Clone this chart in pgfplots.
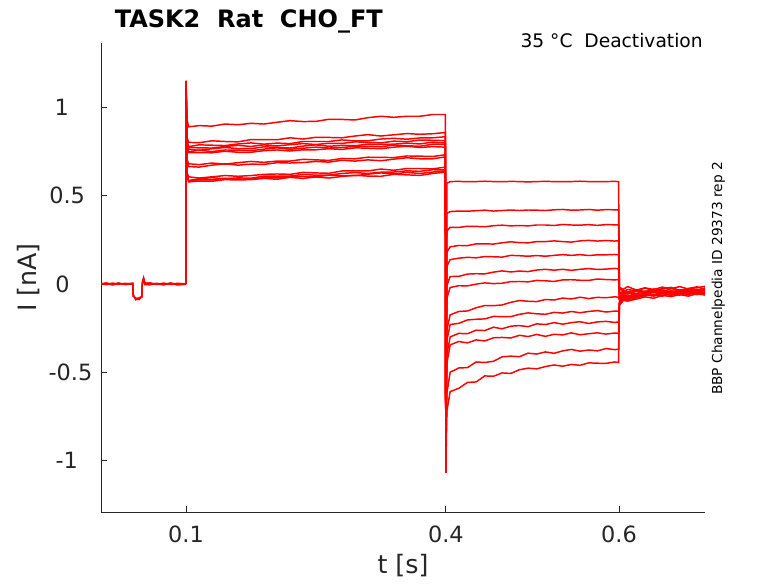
\documentclass[border=0pt]{standalone}
\usepackage{fontspec}
\setmainfont{DejaVu Sans}
\usepackage{pgfplots}
\pgfplotsset{compat=1.18}
\usepackage{pgfplotstable}
\definecolor{axgray}{RGB}{38,38,38}

\pgfplotstableread{
x a b c d e f g h i j k l m
0.1 0 0 0 0 0 0 0 0 0 0 0 0 0
0.1 1.15 1.15 1.12 1.10 1.08 1.15 1.10 1.12 1.06 1.15 1.08 1.10 1.12
0.1012 0.930 0.830 0.810 0.800 0.790 0.780 0.770 0.705 0.695 0.630 0.620 0.615 0.610
0.103 0.890 0.802 0.778 0.773 0.763 0.748 0.744 0.681 0.665 0.607 0.586 0.582 0.578
0.115 0.897 0.800 0.788 0.771 0.757 0.758 0.744 0.676 0.662 0.600 0.596 0.590 0.583
0.130 0.894 0.811 0.786 0.770 0.766 0.750 0.743 0.685 0.673 0.607 0.602 0.589 0.582
0.145 0.906 0.807 0.784 0.779 0.773 0.759 0.752 0.679 0.681 0.614 0.595 0.599 0.591
0.160 0.902 0.805 0.793 0.785 0.767 0.758 0.746 0.687 0.673 0.610 0.601 0.595 0.589
0.175 0.910 0.818 0.799 0.779 0.766 0.755 0.746 0.694 0.679 0.614 0.599 0.593 0.591
0.190 0.906 0.818 0.792 0.788 0.777 0.764 0.755 0.689 0.677 0.621 0.611 0.603 0.598
0.205 0.916 0.817 0.798 0.782 0.774 0.771 0.759 0.696 0.687 0.623 0.611 0.601 0.593
0.220 0.925 0.828 0.795 0.789 0.770 0.763 0.753 0.696 0.685 0.621 0.611 0.609 0.604
0.235 0.920 0.821 0.807 0.795 0.781 0.769 0.760 0.706 0.688 0.632 0.621 0.609 0.598
0.250 0.921 0.831 0.807 0.790 0.788 0.775 0.760 0.703 0.694 0.629 0.616 0.607 0.606
0.265 0.933 0.830 0.807 0.797 0.780 0.770 0.766 0.700 0.690 0.627 0.616 0.616 0.600
0.280 0.932 0.828 0.816 0.796 0.785 0.773 0.762 0.711 0.701 0.640 0.626 0.614 0.609
0.295 0.929 0.838 0.811 0.805 0.783 0.779 0.771 0.709 0.696 0.640 0.631 0.613 0.616
0.310 0.942 0.846 0.811 0.802 0.792 0.780 0.769 0.718 0.703 0.640 0.626 0.622 0.611
0.325 0.950 0.838 0.821 0.799 0.790 0.777 0.766 0.717 0.698 0.651 0.633 0.629 0.610
0.340 0.944 0.845 0.825 0.809 0.792 0.787 0.775 0.716 0.707 0.644 0.634 0.623 0.621
0.355 0.950 0.852 0.820 0.806 0.798 0.783 0.780 0.725 0.715 0.654 0.641 0.632 0.618
0.370 0.950 0.848 0.827 0.815 0.793 0.780 0.773 0.724 0.709 0.654 0.638 0.626 0.615
0.385 0.960 0.851 0.828 0.814 0.804 0.792 0.778 0.722 0.709 0.652 0.647 0.634 0.626
0.3995 0.960 0.858 0.834 0.812 0.798 0.791 0.775 0.732 0.720 0.662 0.646 0.640 0.633
0.4 -1.07 -1.02 -1.05 -0.98 -1.07 -1.00 -1.04 -1.07 -0.99 -1.03 -1.06 -1.01 -1.07
0.4012 0.570 0.400 0.300 0.180 0.100 -0.010 -0.080 -0.260 -0.320 -0.400 -0.450 -0.620 -0.720
0.405 0.580 0.410 0.321 0.210 0.138 0.042 -0.020 -0.175 -0.230 -0.300 -0.345 -0.500 -0.610
0.415 0.581 0.413 0.320 0.218 0.146 0.043 -0.010 -0.156 -0.223 -0.280 -0.326 -0.476 -0.591
0.425 0.579 0.412 0.327 0.217 0.151 0.056 -0.011 -0.153 -0.204 -0.282 -0.334 -0.474 -0.558
0.435 0.580 0.415 0.326 0.227 0.148 0.058 -0.001 -0.135 -0.200 -0.262 -0.317 -0.442 -0.555
0.445 0.582 0.418 0.324 0.227 0.155 0.057 0.006 -0.122 -0.198 -0.264 -0.323 -0.445 -0.521
0.455 0.580 0.413 0.330 0.226 0.154 0.067 0.002 -0.123 -0.184 -0.245 -0.305 -0.438 -0.523
0.465 0.579 0.416 0.333 0.233 0.152 0.074 0.004 -0.119 -0.185 -0.254 -0.303 -0.413 -0.504
0.475 0.581 0.419 0.329 0.239 0.162 0.068 0.013 -0.104 -0.185 -0.239 -0.306 -0.409 -0.507
0.485 0.580 0.416 0.331 0.234 0.160 0.073 0.014 -0.094 -0.172 -0.236 -0.291 -0.412 -0.486
0.495 0.578 0.419 0.329 0.233 0.157 0.070 0.012 -0.098 -0.164 -0.242 -0.298 -0.392 -0.477
0.505 0.580 0.418 0.334 0.240 0.161 0.079 0.020 -0.100 -0.169 -0.226 -0.286 -0.397 -0.481
0.515 0.581 0.416 0.334 0.240 0.157 0.083 0.018 -0.088 -0.172 -0.230 -0.297 -0.385 -0.468
0.525 0.580 0.420 0.331 0.244 0.162 0.078 0.014 -0.091 -0.161 -0.219 -0.285 -0.393 -0.459
0.535 0.579 0.422 0.337 0.240 0.166 0.083 0.023 -0.080 -0.165 -0.228 -0.289 -0.379 -0.466
0.545 0.580 0.418 0.334 0.237 0.162 0.077 0.024 -0.085 -0.156 -0.219 -0.277 -0.371 -0.456
0.555 0.582 0.419 0.333 0.244 0.166 0.083 0.021 -0.075 -0.163 -0.214 -0.288 -0.381 -0.461
0.565 0.580 0.422 0.336 0.247 0.161 0.087 0.020 -0.083 -0.156 -0.224 -0.282 -0.374 -0.447
0.575 0.579 0.418 0.332 0.243 0.165 0.082 0.028 -0.076 -0.151 -0.215 -0.277 -0.379 -0.449
0.585 0.580 0.421 0.336 0.246 0.165 0.084 0.025 -0.078 -0.159 -0.212 -0.284 -0.366 -0.450
0.595 0.581 0.420 0.335 0.243 0.167 0.088 0.023 -0.073 -0.154 -0.218 -0.278 -0.372 -0.442
0.5995 0.580 0.420 0.335 0.245 0.165 0.085 0.025 -0.075 -0.155 -0.215 -0.280 -0.370 -0.445
0.6005 -0.020 -0.030 -0.050 -0.060 -0.070 -0.080 -0.085 -0.090 -0.100 -0.105 -0.110 -0.115 -0.120
0.605 -0.030 -0.038 -0.043 -0.048 -0.055 -0.058 -0.062 -0.068 -0.072 -0.077 -0.082 -0.088 -0.093
0.610 -0.015 -0.045 -0.0315 -0.0555 -0.048 -0.0525 -0.063 -0.0675 -0.0735 -0.0795 -0.0825 -0.090 -0.0975
0.620 -0.0345 -0.0315 -0.039 -0.0375 -0.057 -0.0435 -0.0735 -0.0555 -0.0645 -0.0705 -0.069 -0.078 -0.0855
0.630 -0.0225 -0.0435 -0.0225 -0.051 -0.0405 -0.054 -0.0555 -0.0645 -0.0525 -0.0615 -0.057 -0.0675 -0.0735
0.640 -0.039 -0.0285 -0.0315 -0.042 -0.0495 -0.0345 -0.0645 -0.045 -0.0615 -0.069 -0.0645 -0.0585 -0.081
0.650 -0.027 -0.0405 -0.018 -0.0555 -0.033 -0.045 -0.048 -0.0525 -0.0465 -0.0555 -0.048 -0.069 -0.0645
0.660 -0.0195 -0.048 -0.027 -0.039 -0.045 -0.0255 -0.060 -0.039 -0.0555 -0.0645 -0.054 -0.0555 -0.072
0.670 -0.036 -0.033 -0.015 -0.048 -0.0375 -0.0375 -0.0525 -0.048 -0.039 -0.051 -0.0405 -0.063 -0.060
0.680 -0.0255 -0.042 -0.0285 -0.0345 -0.0525 -0.0285 -0.0435 -0.033 -0.051 -0.060 -0.0495 -0.051 -0.069
0.690 -0.0165 -0.030 -0.021 -0.051 -0.039 -0.039 -0.0585 -0.0435 -0.0435 -0.048 -0.0345 -0.060 -0.0555
0.6993 -0.030 -0.0375 -0.0135 -0.0435 -0.0315 -0.0225 -0.0495 -0.0375 -0.054 -0.0555 -0.042 -0.054 -0.063
}\traces

\begin{document}
\begin{tikzpicture}
\path[use as bounding box] (0,0) rectangle (583.5pt,-437.25pt);
\begin{axis}[
  at={(75.75pt,-384pt)}, anchor=south west,
  width=453pt, height=351.75pt, scale only axis,
  xmin=0.0018, xmax=0.6993, ymin=-1.292, ymax=1.365,
  axis lines*=left,
  axis line style={draw=axgray, line width=0.6pt},
  tick align=inside, major tick length=4.5pt,
  tick style={draw=axgray, line width=0.6pt},
  xtick={0.1,0.4,0.6}, xticklabels={0.1,0.4,0.6},
  ytick={-1,-0.5,0,0.5,1},
  yticklabels={-1\kern17.1pt,-0.5\kern6.3pt,0\kern23.3pt,0.5\kern11.8pt,1\kern23.8pt},
  xticklabel style={font=\fontsize{16.8}{19}\selectfont, text=axgray, inner sep=0pt, anchor=north, yshift=-10.5pt},
  yticklabel style={font=\fontsize{16.8}{19}\selectfont, text=axgray, inner sep=0pt, anchor=east},
  xlabel={t [s]}, ylabel={I [nA]},
  xlabel style={font=\fontsize{19}{22}\selectfont, text=axgray, inner sep=0pt, at={(axis description cs:0.5,-0.1301)}, anchor=base},
  ylabel style={font=\fontsize{19}{22}\selectfont, text=axgray, inner sep=0pt, at={(axis description cs:-0.1076,0.5)}, anchor=base},
  no markers,
]
\addplot[red, mark=none, solid, line width=1.1pt] coordinates {(0.0018,0.003) (0.008,-0.004) (0.015,0.005) (0.022,-0.002) (0.03,0.004) (0.0385,-0.003) (0.039,-0.065) (0.042,-0.085) (0.046,-0.078) (0.049,-0.072) (0.0495,0.005) (0.051,0.032) (0.0525,0.006) (0.058,0.004) (0.066,-0.003) (0.074,0.005) (0.082,-0.002) (0.09,0.004) (0.0995,0.0) (0.1,0.0)};
\addplot[red, mark=none, solid, line width=1.1pt] coordinates {(0.0018,-0.005) (0.008,0.004) (0.015,-0.003) (0.022,0.006) (0.03,-0.004) (0.0385,0.002) (0.039,-0.070) (0.042,-0.080) (0.046,-0.088) (0.049,-0.068) (0.0495,0.0) (0.051,0.025) (0.0525,-0.004) (0.058,-0.005) (0.066,0.004) (0.074,-0.004) (0.082,0.006) (0.09,-0.003) (0.0995,0.002) (0.1,0.0)};
\addplot[red, mark=none, solid, line width=1.1pt] coordinates {(0.0018,0.001) (0.008,0.006) (0.015,-0.006) (0.022,0.002) (0.03,-0.001) (0.0385,0.005) (0.039,-0.060) (0.042,-0.090) (0.046,-0.082) (0.049,-0.075) (0.0495,0.010) (0.051,0.035) (0.0525,0.002) (0.058,0.006) (0.066,0.0) (0.074,-0.005) (0.082,0.003) (0.09,-0.006) (0.0995,-0.002) (0.1,0.0)};
\pgfplotsinvokeforeach{a,b,c,d,e,f,g,h,i,j,k,l,m}{
  \addplot[red, mark=none, solid, line width=1.1pt] table[x=x, y=#1]{\traces};
}
\end{axis}
\begin{scope}[x=0.75pt, y=-0.75pt]
  \node[anchor=base west, inner sep=0pt, font=\fontsize{18}{21}\selectfont\bfseries] at (114.5,27) {TASK2~~Rat~~CHO\_FT};
  \node[anchor=base east, inner sep=0pt, font=\fontsize{14}{17}\selectfont] at (703,47) {35 °C~~Deactivation};
  \node[anchor=base, rotate=90, inner sep=0pt, font=\fontsize{10.3}{12}\selectfont] at (722,278.4) {BBP Channelpedia ID 29373 rep 2};
\end{scope}
\end{tikzpicture}
\end{document}
